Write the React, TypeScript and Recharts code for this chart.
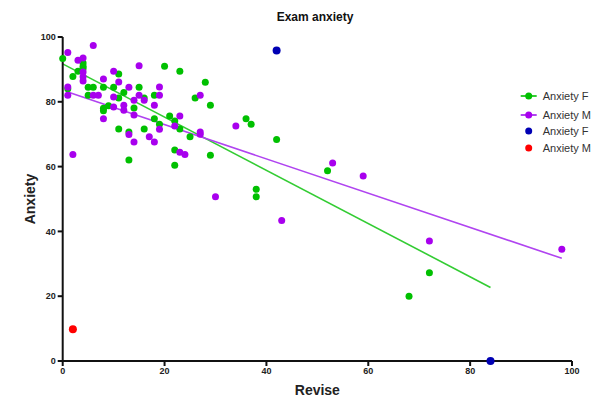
import React from 'react';
import { ScatterChart, Scatter, XAxis, YAxis, ReferenceLine, Legend } from 'recharts';

// Female students: hours revised vs exam anxiety
const femaleRevise = [0, 1, 2, 3, 4, 4, 4, 5, 5, 6, 8, 8, 8, 9, 10, 11, 11, 11, 12, 13, 13, 14, 15, 16, 16, 18, 18, 19, 20, 21, 22, 22, 22, 23, 23, 25, 26, 28, 29, 29, 36, 37, 38, 38, 42, 52, 68, 72];
const femaleAnxiety = [93.4, 84.0, 87.8, 89.4, 92.0, 91.0, 90.3, 84.5, 82.0, 84.5, 84.5, 78.0, 77.2, 78.8, 84.5, 88.6, 81.2, 71.6, 82.9, 70.7, 62.0, 78.1, 84.5, 81.2, 71.6, 82.0, 74.8, 73.1, 91.0, 75.6, 74.1, 65.1, 60.4, 89.4, 71.6, 69.2, 81.2, 86.0, 78.9, 63.5, 74.8, 73.1, 53.0, 50.7, 68.4, 58.7, 20.0, 27.2];

// Male students
const maleRevise = [1, 1, 1, 2, 3, 4, 4, 4, 4, 6, 6, 7, 8, 8, 10, 10, 10, 11, 12, 12, 13, 13, 14, 14, 14, 15, 15, 16, 17, 18, 18, 19, 19, 19, 22, 23, 23, 24, 27, 27, 27, 30, 34, 43, 53, 59, 72, 98];
const maleAnxiety = [95.2, 84.6, 82.0, 63.7, 92.8, 93.5, 89.2, 87.7, 86.4, 97.4, 82.0, 82.0, 87.0, 74.8, 89.4, 81.5, 78.4, 86.1, 78.9, 77.4, 84.5, 69.9, 80.5, 75.9, 67.6, 91.1, 82.0, 80.5, 69.2, 78.9, 67.6, 84.6, 82.0, 71.5, 72.5, 75.6, 64.4, 63.7, 82.0, 70.7, 70.0, 50.7, 72.5, 43.4, 61.1, 57.1, 37.0, 34.5];

// Flagged cases, plotted separately
const femaleOutlierRevise = [42, 84];
const femaleOutlierAnxiety = [95.8, 0];
const maleOutlierRevise = [2];
const maleOutlierAnxiety = [9.8];

// Straight-line fits (endpoints in data units)
const femaleFitRevise = [0, 84];
const femaleFitAnxiety = [91.7, 22.7];
const maleFitRevise = [1, 98];
const maleFitAnxiety = [83.0, 31.7];

const axisTicks = [0, 20, 40, 60, 80, 100];

const GREEN = '#00C000';
const GREEN_LINE = '#33CC33';
const PURPLE = '#A800EE';
const PURPLE_LINE = '#B044F0';
const BLUE = '#0000B4';
const RED = '#FF0000';
const FONT = '"Liberation Sans", Arial, sans-serif';

const toPoints = (xs: number[], ys: number[]) => xs.map((x, i) => ({ x, y: ys[i] }));

const femaleData = toPoints(femaleRevise, femaleAnxiety);
const maleData = toPoints(maleRevise, maleAnxiety);
const femaleOutliers = toPoints(femaleOutlierRevise, femaleOutlierAnxiety);
const maleOutliers = toPoints(maleOutlierRevise, maleOutlierAnxiety);

const dot = (color: string, r: number) => (props: any) => (
  <circle cx={props.cx} cy={props.cy} r={r} fill={color} />
);

const legendEntries = [
  { name: 'Anxiety F', color: GREEN, lineColor: GREEN_LINE, withLine: true, top: 8 },
  { name: 'Anxiety M', color: PURPLE, lineColor: PURPLE_LINE, withLine: true, top: 26.5 },
  { name: 'Anxiety F', color: BLUE, lineColor: BLUE, withLine: false, top: 42.5 },
  { name: 'Anxiety M', color: RED, lineColor: RED, withLine: false, top: 60 },
];

const renderLegend = () => (
  <div style={{ position: 'relative', width: 80, height: 70, fontFamily: FONT }}>
    {legendEntries.map((e, i) => (
      <div key={i} style={{ position: 'absolute', left: 0, top: e.top - 7, height: 14, width: 80 }}>
        <svg width={20} height={14} style={{ position: 'absolute', left: 2, top: 0 }}>
          {e.withLine && <line x1={0.7} y1={7} x2={16.7} y2={7} stroke={e.lineColor} strokeWidth={2} />}
          <circle cx={8.7} cy={7} r={3.5} fill={e.color} />
        </svg>
        <span
          style={{
            position: 'absolute',
            left: 24.7,
            top: 0,
            lineHeight: '14px',
            fontSize: 11,
            color: '#333',
            whiteSpace: 'nowrap',
          }}
        >
          {e.name}
        </span>
      </div>
    ))}
  </div>
);

const tickStyle = { fontSize: 9, fontWeight: 700, fill: '#222', fontFamily: FONT };

export default function App() {
  return (
    <div style={{ position: 'absolute', left: 0, top: 0, width: 592, height: 398, background: '#fff' }}>
      <div
        style={{
          position: 'absolute',
          left: 215,
          top: 10,
          width: 200,
          textAlign: 'center',
          fontFamily: FONT,
          fontWeight: 700,
          fontSize: 12,
          lineHeight: '14px',
          color: '#111',
        }}
      >
        Exam anxiety
      </div>
      <ScatterChart width={592} height={398} margin={{ top: 37, right: 20, bottom: 0, left: 0 }}>
        <XAxis
          type="number"
          dataKey="x"
          domain={[0, 100]}
          ticks={axisTicks}
          interval={0}
          height={37}
          stroke="#111"
          strokeWidth={2}
          tickSize={5}
          tickMargin={2}
          tick={tickStyle}
          label={{
            value: 'Revise',
            position: 'insideBottom',
            offset: 3,
            style: { fontSize: 14, fontWeight: 700, fill: '#222', fontFamily: FONT },
          }}
        />
        <YAxis
          type="number"
          dataKey="y"
          domain={[0, 100]}
          ticks={axisTicks}
          interval={0}
          width={62.7}
          stroke="#111"
          strokeWidth={2}
          tickSize={5}
          tickMargin={2}
          tick={tickStyle}
          label={{
            value: 'Anxiety',
            angle: -90,
            position: 'insideLeft',
            offset: 30,
            style: { fontSize: 14, fontWeight: 700, fill: '#222', fontFamily: FONT, textAnchor: 'middle' },
          }}
        />
        <Legend
          layout="vertical"
          align="center"
          verticalAlign="middle"
          wrapperStyle={{ left: 518, top: 88, width: 80 }}
          content={renderLegend}
        />
        <ReferenceLine
          segment={[
            { x: femaleFitRevise[0], y: femaleFitAnxiety[0] },
            { x: femaleFitRevise[1], y: femaleFitAnxiety[1] },
          ]}
          stroke={GREEN_LINE}
          strokeWidth={1.6}
          ifOverflow="visible"
        />
        <ReferenceLine
          segment={[
            { x: maleFitRevise[0], y: maleFitAnxiety[0] },
            { x: maleFitRevise[1], y: maleFitAnxiety[1] },
          ]}
          stroke={PURPLE_LINE}
          strokeWidth={1.6}
          ifOverflow="visible"
        />
        <Scatter name="Anxiety F" data={femaleData} fill={GREEN} shape={dot(GREEN, 3.5)} isAnimationActive={false} />
        <Scatter name="Anxiety M" data={maleData} fill={PURPLE} shape={dot(PURPLE, 3.5)} isAnimationActive={false} />
        <Scatter name="Anxiety F" data={femaleOutliers} fill={BLUE} shape={dot(BLUE, 4)} isAnimationActive={false} />
        <Scatter name="Anxiety M" data={maleOutliers} fill={RED} shape={dot(RED, 4)} isAnimationActive={false} />
      </ScatterChart>
    </div>
  );
}
